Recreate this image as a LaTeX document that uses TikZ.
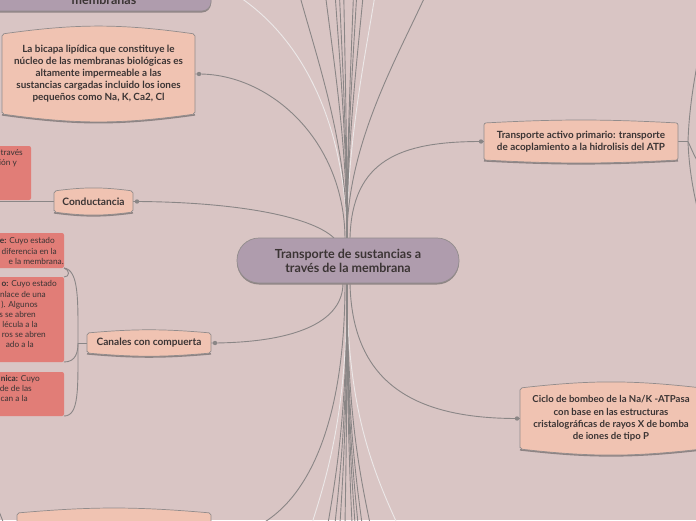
\documentclass[tikz,border=0pt]{standalone}
\usepackage{fontspec}
\setmainfont{Lato}
\definecolor{bgc}{HTML}{D9C5C4}
\definecolor{salmon}{HTML}{F0C3B2}
\definecolor{purp}{HTML}{AF9CAD}
\definecolor{redb}{HTML}{E17D77}
\definecolor{linegray}{HTML}{8A8686}
\definecolor{lightline}{HTML}{ECE8E8}
\definecolor{textc}{HTML}{3B3434}
\definecolor{borderc}{HTML}{928C8C}
\definecolor{shadowc}{HTML}{8E8484}
\newcommand\myfs[2]{\fontsize{#1}{#2}\selectfont}
\newcommand\bulgebox[2]{%
  \draw[shadowc, line width=1.6pt] ([yshift=-0.8pt]#1.south east) to[bend left=#2] ([yshift=-0.8pt]#1.south west);
  \draw[draw=borderc, line width=0.7pt, fill=salmon, rounded corners=2pt]
    (#1.south west) -- (#1.north west) to[bend left=#2] (#1.north east)
    -- (#1.south east) to[bend left=#2] (#1.south west) -- cycle;}
\tikzset{
  ph/.style={inner sep=0pt, outer sep=0pt, draw=none},
  conn/.style={draw=linegray, line width=0.9pt},
  lightconn/.style={draw=lightline, line width=0.9pt},
  txt/.style={inner sep=0pt, text=textc, align=center},
  redbox/.style={ph, fill=redb, rounded corners=2pt},
  redtxt/.style={inner sep=0pt, text=textc, anchor=base east, font=\myfs{8.3}{10}},
}
\begin{document}
\begin{tikzpicture}[x=1pt,y=-1pt]
\useasboundingbox (0,0) rectangle (696,520);
\fill[bgc] (0,0) rectangle (696,520);
\clip (0,0) rectangle (696,520);

% placeholder nodes (box geometry)
\node[ph, minimum width=222pt, minimum height=45pt] (center) at (348,260.5) {};
\node[ph, minimum width=241pt, minimum height=51pt] (topnode) at (90.5,-14.5) {};
\node[ph, minimum width=193pt, minimum height=80pt] (bicapa) at (98.5,74) {};
\node[ph, minimum width=79pt, minimum height=21pt] (cond) at (93.5,201.5) {};
\node[ph, minimum width=124pt, minimum height=20pt] (canal) at (149,343) {};
\node[ph, minimum width=194pt, minimum height=37pt] (activo) at (581,141.5) {};
\node[ph, minimum width=182pt, minimum height=61pt] (ciclo) at (611,418.5) {};
\node[ph, minimum width=194pt, minimum height=47pt] (bottom) at (114,536.5) {};

% dots
\coordinate (dBic) at ([xshift=4pt]bicapa.east);
\coordinate (dCond) at ([xshift=4pt]cond.east);
\coordinate (dCan) at ([xshift=4pt]canal.east);
\coordinate (dAct) at ([xshift=-3pt]activo.west);
\coordinate (dCic) at ([xshift=-3pt]ciclo.west);
\coordinate (dBot) at ([xshift=4pt]bottom.east);

% fan lines to the top
\coordinate (upL) at (225,-12);
\draw[lightconn] ([xshift=-1pt]center.north) .. controls (345,120) and (300,30) .. (upL);
\foreach \xe [count=\i] in {373} {
  \coordinate (upl\i) at ({347+1.12*(\xe-347)},-12);
  \draw[lightconn] ([xshift=-1pt]center.north) .. controls (347,140) and ({347+0.75*(\xe-347)},50) .. (upl\i);
}
\foreach \xe [count=\i] in {303,327,336,340,344,353,356,362,420} {
  \coordinate (up\i) at ({347+1.12*(\xe-347)},-12);
  \draw[conn] ([xshift=-1pt]center.north) .. controls (347,140) and ({347+0.75*(\xe-347)},50) .. (up\i);
}
% fan lines to the bottom
\foreach \xe [count=\i] in {312,397} {
  \coordinate (dnl\i) at ({347+1.2*(\xe-347)},545);
  \draw[lightconn] ([xshift=-1pt]center.south) .. controls (347,420) and ({347+0.6*(\xe-347)},480) .. (dnl\i);
}
\foreach \xe [count=\i] in {328,335,340,345,352,355,358,362,370} {
  \coordinate (dn\i) at ({347+1.2*(\xe-347)},545);
  \draw[conn] ([xshift=-1pt]center.south) .. controls (347,420) and ({347+0.6*(\xe-347)},480) .. (dn\i);
}

% main connectors
\draw[conn] (bicapa.east) -- (dBic) .. controls (270,74) and (344,140) .. ([xshift=-3pt]center.north);
\draw[conn] (cond.east) -- (dCond) .. controls (230,202) and (310,215) .. ([xshift=-14pt]center.north);
\draw[conn] (canal.east) -- (dCan) .. controls (300,342) and (343,320) .. ([xshift=-5pt]center.south);
\draw[conn] ([xshift=2pt]center.north) .. controls (352,160) and (400,141.5) .. (dAct) -- (activo.west);
\draw[conn] ([xshift=2pt]center.south) .. controls (352,380) and (410,418.5) .. (dCic) -- (ciclo.west);
\draw[conn] ([xshift=-3pt]center.south) .. controls (345,470) and (280,536.5) .. (dBot) -- (bottom.east);

% conductancia child line
\coordinate (condL) at (-10,201.5);
\draw[conn] (cond.west) -- (condL);

% activo children lines (right edge)
\coordinate (aj) at (688,141.5);
\coordinate (ar1) at (699,55);
\coordinate (ar2) at (699,163);
\coordinate (ar3) at (699,215);
\draw[conn] (activo.east) -- (aj);
\draw[conn] (aj) .. controls (689,110) and (694,80) .. (ar1);
\draw[conn] (aj) .. controls (692,150) and (695,158) .. (ar2);
\draw[conn] (aj) .. controls (689,170) and (694,195) .. (ar3);

% bottom-left child line
\coordinate (bj) at (9,537);
\coordinate (bc) at (-8,496);
\draw[conn] (bottom.west) -- (bj) .. controls (5,528) and (1,514) .. (bc);

% red boxes
\node[redbox, minimum width=51pt, minimum height=54pt] (redtop) at (5.5,173) {};
\node[redbox, minimum width=84pt, minimum height=35pt] (red1) at (22,250.5) {};
\node[redbox, minimum width=84pt, minimum height=85pt] (red2) at (22,319.5) {};
\node[redbox, minimum width=84pt, minimum height=44pt] (red3) at (22,394) {};

% canales bracket
\coordinate (cj) at (78,343);
\draw[conn] (canal.west) -- (cj);
\draw[conn] (cj) .. controls (78,300) and (79,270) .. (red1.south east);
\draw[conn] (cj) .. controls (78,352) and (76,362) .. (red2.south east);
\draw[conn] (cj) .. controls (78,390) and (79,416) .. (red3.south east);
\draw[conn] (red1.south east) .. controls (70,270) and (70,277) .. (red2.north east);

% shapes
\fill[shadowc, rounded corners=9pt] ([yshift=-1.5pt]topnode.south west) rectangle ([yshift=-1.5pt]topnode.north east);
\draw[draw=borderc, line width=0.7pt, fill=purp, rounded corners=9pt] (topnode.south west) rectangle (topnode.north east);
\fill[shadowc, rounded corners=22pt] ([yshift=-1.5pt]center.south west) rectangle ([yshift=-1.5pt]center.north east);
\draw[draw=borderc, line width=0.7pt, fill=purp, rounded corners=22pt] (center.south west) rectangle (center.north east);
\bulgebox{bicapa}{8}
\bulgebox{cond}{7.5}
\bulgebox{canal}{5}
\bulgebox{activo}{3}
\bulgebox{ciclo}{6.5}
\bulgebox{bottom}{5}

% texts
\node[txt, font=\myfs{12.5}{14}\bfseries] (centerT) at (center.center) {Transporte de sustancias a\\través de la membrana};
\node[txt, anchor=base, font=\myfs{12.5}{14}\bfseries] (topT) at (104,4) {membranas};
\node[txt, font=\myfs{9.9}{12}\bfseries] (bicapaT) at (bicapa.center) {La bicapa lipídica que constituye le\\núcleo de las membranas biológicas es\\altamente impermeable a las\\sustancias cargadas incluido los iones\\pequeños como Na, K, Ca2, Cl};
\node[txt, font=\myfs{10.2}{12}\bfseries] (condT) at (cond.center) {Conductancia};
\node[txt, font=\myfs{10.1}{12}\bfseries] (canalT) at (canal.center) {Canales con compuerta};
\node[txt, font=\myfs{9.9}{12}\bfseries] (activoT) at (activo.center) {Transporte activo primario: transporte\\de acoplamiento a la hidrolisis del ATP};
\node[txt, font=\myfs{9.6}{12.3}\bfseries] (cicloT) at (ciclo.center) {Ciclo de bombeo de la Na/K -ATPasa\\con base en las estructuras\\cristalográficas de rayos X de bomba\\de iones de tipo P};

% red box texts (cut at the left edge)
\node[redtxt] (rt1) at (23,155.8) {través};
\node[redtxt] (rt2) at (17,165.8) {ión y};
\node[redtxt] (r1a) at (55,243.8) {\textbf{e:} Cuyo estado};
\node[redtxt] (r1b) at (57,254.3) {diferencia en la};
\node[redtxt] (r1c) at (64,264.8) {e la membrana.};
\node[redtxt] (r2a) at (57,286.8) {\textbf{o:} Cuyo estado};
\node[redtxt] (r2b) at (46,297.8) {nlace de una};
\node[redtxt] (r2c) at (38,307.8) {). Algunos};
\node[redtxt] (r2d) at (36,317.8) {s se abren};
\node[redtxt] (r2e) at (38,327.8) {lécula a la};
\node[redtxt] (r2f) at (46,337.8) {ros se abren};
\node[redtxt] (r2g) at (34,347.8) {ado a la};
\node[redtxt] (r3a) at (40,381.8) {\textbf{nica:} Cuyo};
\node[redtxt] (r3b) at (32,391.8) {de de las};
\node[redtxt] (r3c) at (28,401.8) {can a la};

% dots
\foreach \d in {dBic,dCond,dCan,dAct,dCic,dBot} {
  \fill[linegray] (\d) circle (2.2pt);
}
\end{tikzpicture}
\end{document}
